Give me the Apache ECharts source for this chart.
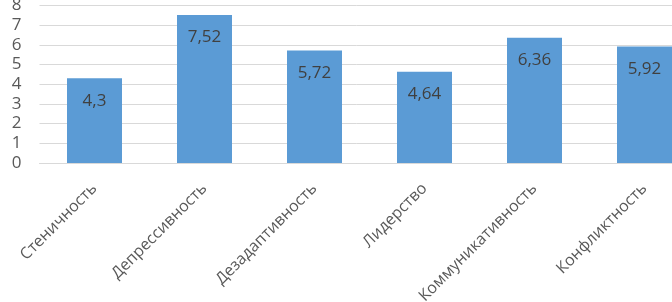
<!DOCTYPE html>
<html><head><meta charset="utf-8">
<script src="https://cdn.jsdelivr.net/npm/echarts@6/dist/echarts.min.js"></script>
<style>html,body{margin:0;padding:0;background:#fff}#c{width:672px;height:302px}</style>
</head><body><div id="c"></div>
<script>
const categories = ["Стеничность","Депрессивность","Дезадаптивность","Лидерство","Коммуникативность","Конфликтность"];
const values = [4.3, 7.52, 5.72, 4.64, 6.36, 5.92];
const yTicks = {min: 0, max: 8, interval: 1};
const chart = echarts.init(document.getElementById('c'));
chart.setOption({
  animation: false,
  grid: {left: 39.5, top: 5.5, height: 157.5, right: -27.5, containLabel: false, outerBoundsMode: 'none'},
  xAxis: {
    type: 'category', data: categories,
    axisLine: {lineStyle: {color: '#d9d9d9', width: 1}},
    axisTick: {show: false},
    axisLabel: {rotate: 45, margin: 23, color: '#595959', fontFamily: 'Open Sans', fontSize: 16, interval: 0}
  },
  yAxis: {
    type: 'value', min: yTicks.min, max: yTicks.max, interval: yTicks.interval,
    axisLine: {show: false}, axisTick: {show: false},
    splitLine: {lineStyle: {color: '#d9d9d9', width: 1}},
    axisLabel: {margin: 18, color: '#595959', fontFamily: 'Open Sans', fontSize: 17}
  },
  series: [{
    type: 'bar', data: values, barWidth: '50%',
    itemStyle: {color: '#5b9bd5'},
    label: {show: true, position: 'insideTop', distance: 14, color: '#404040', fontFamily: 'Open Sans', fontSize: 17,
      formatter: p => String(p.value).replace('.', ',')}
  }]
});
</script></body></html>
